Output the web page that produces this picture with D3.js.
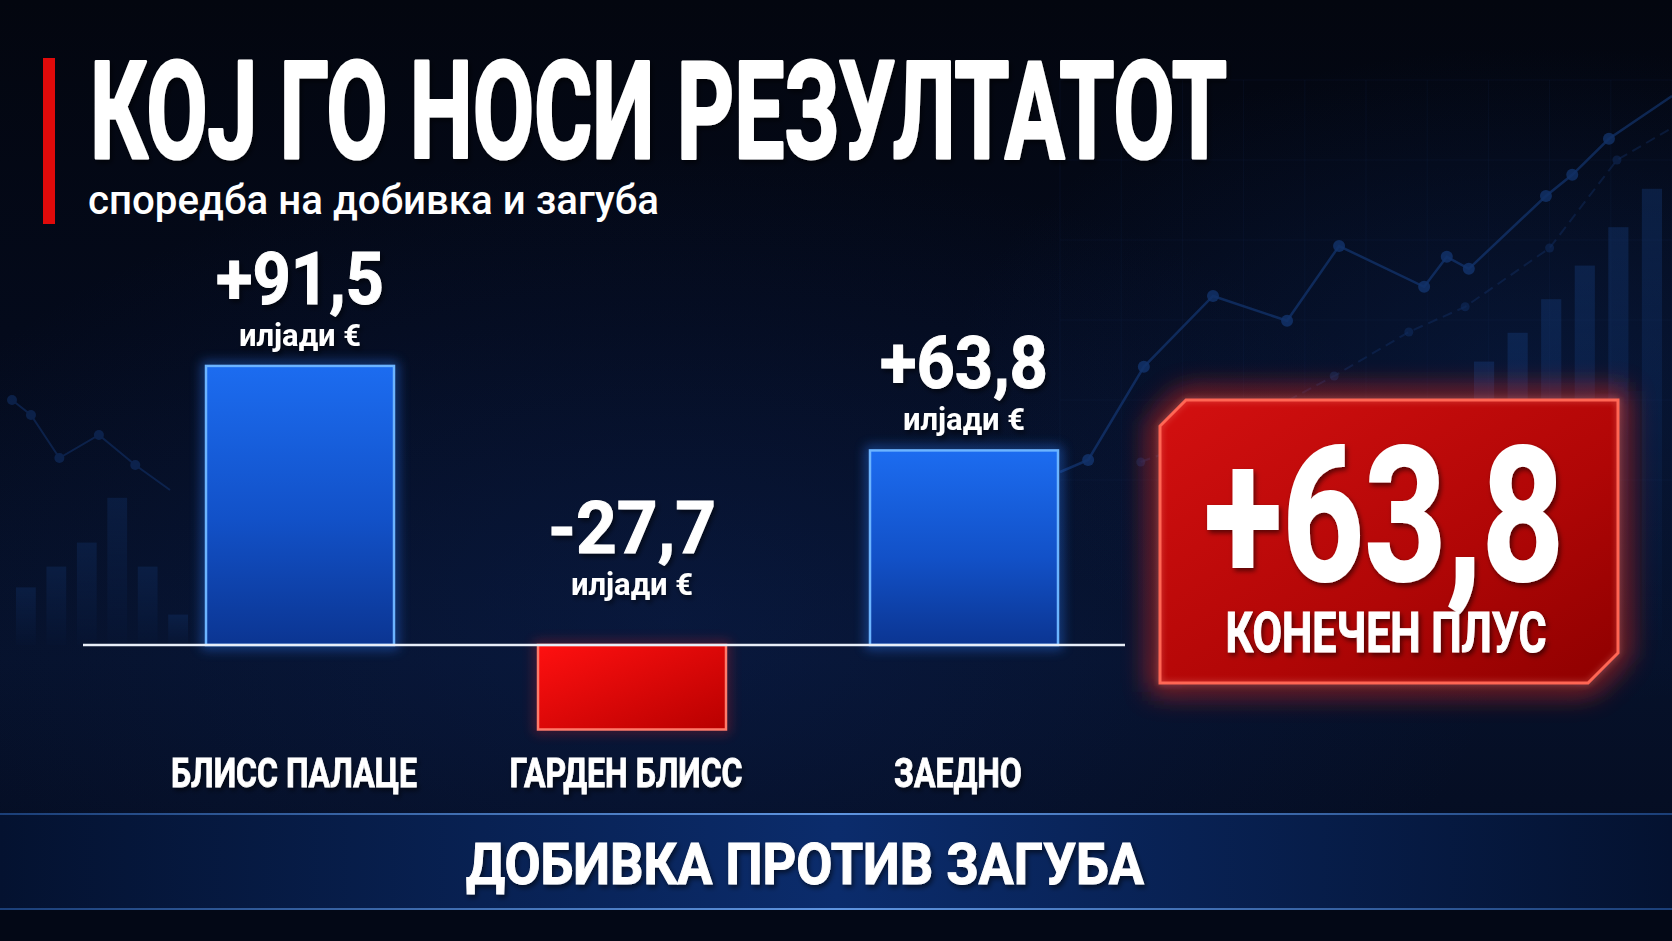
<!DOCTYPE html>
<html>
<head>
<meta charset="utf-8">
<script src="https://cdn.jsdelivr.net/npm/d3@7"></script>
<style>
  body { margin: 0; background: #040a1c; overflow: hidden; }
  text { font-family: Roboto, "Noto Sans", "DejaVu Sans", sans-serif; fill: #fff; }
</style>
</head>
<body>
<svg id="chart" width="1672" height="941"></svg>
<script>
// chart data
const categories = ["БЛИСС ПАЛАЦЕ", "ГАРДЕН БЛИСС", "ЗАЕДНО"];
const values = [91.5, -27.7, 63.8];
const unitLabel = "илјади €";
const totalValue = 63.8;
const totalCaption = "КОНЕЧЕН ПЛУС";
const titleText = "КОЈ ГО НОСИ РЕЗУЛТАТОТ";
const subtitleText = "споредба на добивка и загуба";
const footerText = "ДОБИВКА ПРОТИВ ЗАГУБА";

// background decoration (faint trend chart), values in 0..100 units
const decoTrend = [[0, 2], [4.6, 5], [13.7, 28.3], [25, 46], [37.1, 39.8], [45.6, 58.5], [59.5, 48.3],
  [63.2, 55.8], [66.8, 52.8], [79.4, 71], [83.7, 76.3], [89.7, 85.3], [100, 96]];
const decoTrend2 = [[13.2, 4.5], [30, 14], [44.8, 26], [57, 37], [66.2, 43.3], [80, 58], [91, 80], [100, 88]];
const decoBarsRight = [58, 64, 71, 78, 86, 94];
const decoBarsLeft = [36, 49, 64, 92, 49, 19];
const decoLineLeft = [[0, 70], [12, 55], [30, 12], [55, 35], [78, 5], [100, -20]];

const fmt = d3.formatLocale({ decimal: ",", thousands: ".", grouping: [3], currency: ["", "€"], minus: "-" })
  .format("+.1f");

const svg = d3.select("#chart");
const width = +svg.attr("width");
const height = +svg.attr("height");
const defs = svg.append("defs");

// ---------- gradients & filters ----------
const bgGrad = defs.append("linearGradient").attr("id", "bg").attr("x1", 0).attr("y1", 0).attr("x2", 0).attr("y2", 1);
[["0%", "#03060f"], ["35%", "#040a1b"], ["70%", "#06112a"], ["100%", "#040b1e"]]
  .forEach(s => bgGrad.append("stop").attr("offset", s[0]).attr("stop-color", s[1]));

const glowBlue = defs.append("radialGradient").attr("id", "glowBlue").attr("cx", "40%").attr("cy", "66%").attr("r", "50%");
glowBlue.append("stop").attr("offset", "0%").attr("stop-color", "#0f2a6a").attr("stop-opacity", 0.3);
glowBlue.append("stop").attr("offset", "100%").attr("stop-color", "#0f2a6a").attr("stop-opacity", 0);

const glowRight = defs.append("radialGradient").attr("id", "glowRight").attr("cx", "92%").attr("cy", "40%").attr("r", "35%");
glowRight.append("stop").attr("offset", "0%").attr("stop-color", "#0e3070").attr("stop-opacity", 0.3);
glowRight.append("stop").attr("offset", "100%").attr("stop-color", "#0e3070").attr("stop-opacity", 0);

const blueBar = defs.append("linearGradient").attr("id", "blueBar").attr("x1", 0).attr("y1", 0).attr("x2", 0).attr("y2", 1);
blueBar.append("stop").attr("offset", "0%").attr("stop-color", "#1c6cf0");
blueBar.append("stop").attr("offset", "55%").attr("stop-color", "#1251c8");
blueBar.append("stop").attr("offset", "100%").attr("stop-color", "#0b3592");

const redBar = defs.append("linearGradient").attr("id", "redBar").attr("x1", 0).attr("y1", 0).attr("x2", 1).attr("y2", 1);
redBar.append("stop").attr("offset", "0%").attr("stop-color", "#ff1010");
redBar.append("stop").attr("offset", "100%").attr("stop-color", "#b80000");

const redBox = defs.append("linearGradient").attr("id", "redBox").attr("x1", 0).attr("y1", 0).attr("x2", 1).attr("y2", 1);
redBox.append("stop").attr("offset", "0%").attr("stop-color", "#d41010");
redBox.append("stop").attr("offset", "60%").attr("stop-color", "#b00606");
redBox.append("stop").attr("offset", "100%").attr("stop-color", "#8e0000");

const band = defs.append("linearGradient").attr("id", "band").attr("x1", 0).attr("y1", 0).attr("x2", 1).attr("y2", 0);
[["0%", "#041230"], ["50%", "#0b2c6c"], ["100%", "#041230"]]
  .forEach(s => band.append("stop").attr("offset", s[0]).attr("stop-color", s[1]));
const bandLine = defs.append("linearGradient").attr("id", "bandLine").attr("x1", 0).attr("y1", 0).attr("x2", 1).attr("y2", 0);
[["0%", "#1b3f78"], ["50%", "#5f95e0"], ["100%", "#1b3f78"]]
  .forEach(s => bandLine.append("stop").attr("offset", s[0]).attr("stop-color", s[1]));

const decoFade = defs.append("linearGradient").attr("id", "decoFade").attr("x1", 0).attr("y1", 0).attr("x2", 0).attr("y2", 1);
decoFade.append("stop").attr("offset", "0%").attr("stop-color", "#1d4f9e").attr("stop-opacity", 0.5);
decoFade.append("stop").attr("offset", "100%").attr("stop-color", "#1d4f9e").attr("stop-opacity", 0.04);

function blurFilter(id, dev) {
  const f = defs.append("filter").attr("id", id).attr("x", "-30%").attr("y", "-30%").attr("width", "160%").attr("height", "160%");
  f.append("feGaussianBlur").attr("stdDeviation", dev);
}
blurFilter("blur6", 6);
blurFilter("blur14", 14);
blurFilter("blur3", 3);

const shadow = defs.append("filter").attr("id", "shadow").attr("x", "-10%").attr("y", "-10%").attr("width", "130%").attr("height", "140%");
shadow.append("feDropShadow").attr("dx", 2).attr("dy", 3).attr("stdDeviation", 2.5)
  .attr("flood-color", "#000").attr("flood-opacity", 0.55);

// ---------- background ----------
svg.append("rect").attr("width", width).attr("height", height).attr("fill", "url(#bg)");
svg.append("rect").attr("width", width).attr("height", height).attr("fill", "url(#glowBlue)");
svg.append("rect").attr("width", width).attr("height", height).attr("fill", "url(#glowRight)");

// faint trend decoration, right side
const dx = d3.scaleLinear().domain([0, 100]).range([1060, 1672]);
const dy = d3.scaleLinear().domain([0, 100]).range([480, 80]);
const deco = svg.append("g").attr("opacity", 0.55);

// faint grid
deco.selectAll("line.gv").data(d3.range(0, 101, 10)).enter().append("line")
  .attr("x1", d => dx(d)).attr("x2", d => dx(d)).attr("y1", dy(100)).attr("y2", dy(-40))
  .attr("stroke", "#16305e").attr("stroke-opacity", 0.25);
deco.selectAll("line.gh").data(d3.range(0, 101, 20)).enter().append("line")
  .attr("x1", dx(0)).attr("x2", dx(100)).attr("y1", d => dy(d)).attr("y2", d => dy(d))
  .attr("stroke", "#16305e").attr("stroke-opacity", 0.25);

const dbx = d3.scaleBand().domain(d3.range(decoBarsRight.length)).range([1474, 1662]).paddingInner(0.4);
const dbh = d3.scaleLinear().domain([0, 100]).range([0, 480]);
deco.selectAll("rect.db").data(decoBarsRight).enter().append("rect")
  .attr("x", (d, i) => dbx(i)).attr("width", dbx.bandwidth())
  .attr("y", d => 640 - dbh(d)).attr("height", d => dbh(d))
  .attr("fill", "url(#decoFade)");

const decoLine = d3.line().x(d => dx(d[0])).y(d => dy(d[1]));
deco.append("path").datum(decoTrend2).attr("d", decoLine)
  .attr("fill", "none").attr("stroke", "#1a4288").attr("stroke-width", 2).attr("stroke-dasharray", "10 6").attr("opacity", 0.5);
deco.append("path").datum(decoTrend).attr("d", decoLine)
  .attr("fill", "none").attr("stroke", "#1b4c9c").attr("stroke-width", 2.5).attr("opacity", 0.8);
deco.selectAll("circle.t").data(decoTrend.slice(1, -1)).enter().append("circle")
  .attr("cx", d => dx(d[0])).attr("cy", d => dy(d[1])).attr("r", 6)
  .attr("fill", "#1c4d9e").attr("opacity", 0.85);
deco.selectAll("circle.t2").data(decoTrend2.slice(0, -1)).enter().append("circle")
  .attr("cx", d => dx(d[0])).attr("cy", d => dy(d[1])).attr("r", 4.5)
  .attr("fill", "#173f84").attr("opacity", 0.6);

// faint decoration, left side
const lx = d3.scaleLinear().domain([0, 100]).range([12, 170]);
const ly = d3.scaleLinear().domain([0, 100]).range([470, 370]);
const lbx = d3.scaleBand().domain(d3.range(decoBarsLeft.length)).range([16, 188]).paddingInner(0.35);
const lbh = d3.scaleLinear().domain([0, 100]).range([0, 160]);
const decoL = svg.append("g").attr("opacity", 0.4);
decoL.selectAll("rect").data(decoBarsLeft).enter().append("rect")
  .attr("x", (d, i) => lbx(i)).attr("width", lbx.bandwidth())
  .attr("y", d => 645 - lbh(d)).attr("height", d => lbh(d))
  .attr("fill", "url(#decoFade)");
decoL.append("path").datum(decoLineLeft).attr("d", d3.line().x(d => lx(d[0])).y(d => ly(d[1])))
  .attr("fill", "none").attr("stroke", "#173f84").attr("stroke-width", 2);
decoL.selectAll("circle").data(decoLineLeft.slice(0, -1)).enter().append("circle")
  .attr("cx", d => lx(d[0])).attr("cy", d => ly(d[1])).attr("r", 5).attr("fill", "#173f84");

// ---------- header ----------
svg.append("rect").attr("x", 43).attr("y", 58).attr("width", 12).attr("height", 166).attr("fill", "#e00a0a");
svg.append("text").attr("x", 90).attr("y", 158)
  .attr("font-size", 135).attr("font-weight", 700)
  .attr("textLength", 1137).attr("lengthAdjust", "spacingAndGlyphs")
  .attr("stroke", "#fff").attr("stroke-width", 3).attr("stroke-linejoin", "round")
  .attr("filter", "url(#shadow)")
  .text(titleText);
svg.append("text").attr("x", 88).attr("y", 214)
  .attr("font-size", 40).attr("font-weight", 500)
  .attr("textLength", 571).attr("lengthAdjust", "spacingAndGlyphs")
  .attr("fill", "#eef2f8")
  .text(subtitleText);

// ---------- bar chart ----------
const x = d3.scalePoint().domain(categories).range([300, 964]);
const barW = 188;
const y = d3.scaleLinear().domain([-30, 95]).range([645 + 30 * 3.05, 645 - 95 * 3.05]);
const data = categories.map((c, i) => ({ cat: c, value: values[i] }));

const g = svg.append("g");

// glow behind bars
g.selectAll("rect.glow").data(data).enter().append("rect")
  .attr("x", d => x(d.cat) - barW / 2).attr("width", barW)
  .attr("y", d => Math.min(y(d.value), y(0))).attr("height", d => Math.abs(y(d.value) - y(0)))
  .attr("fill", "none")
  .attr("stroke", d => d.value >= 0 ? "#2a7dff" : "#ff2020")
  .attr("stroke-width", 8).attr("opacity", d => d.value >= 0 ? 0.5 : 0.3)
  .attr("filter", "url(#blur6)");

g.selectAll("rect.bar").data(data).enter().append("rect")
  .attr("class", "bar")
  .attr("x", d => x(d.cat) - barW / 2).attr("width", barW)
  .attr("y", d => Math.min(y(d.value), y(0))).attr("height", d => Math.abs(y(d.value) - y(0)))
  .attr("fill", d => d.value >= 0 ? "url(#blueBar)" : "url(#redBar)")
  .attr("stroke", d => d.value >= 0 ? "#6cb4ff" : "#ff7a6a")
  .attr("stroke-width", 2.5);

// zero line
g.append("line").attr("x1", 83).attr("x2", 1125).attr("y1", y(0)).attr("y2", y(0))
  .attr("stroke", "#e8eef8").attr("stroke-width", 2.5);

// value labels
const labelTop = d => d.value >= 0 ? y(d.value) : y(0);
g.selectAll("text.val").data(data).enter().append("text")
  .attr("x", d => x(d.cat)).attr("y", d => labelTop(d) - (d.value >= 0 ? 62 : 92))
  .attr("text-anchor", "middle").attr("font-size", 72).attr("font-weight", 700)
  .attr("textLength", 168).attr("lengthAdjust", "spacingAndGlyphs")
  .attr("stroke", "#fff").attr("stroke-width", 1)
  .attr("filter", "url(#shadow)")
  .text(d => fmt(d.value));
g.selectAll("text.unit").data(data).enter().append("text")
  .attr("x", d => x(d.cat)).attr("y", d => labelTop(d) - (d.value >= 0 ? 20 : 50))
  .attr("text-anchor", "middle").attr("font-size", 31).attr("font-weight", 700)
  .attr("filter", "url(#shadow)")
  .text(unitLabel);

// category labels, condensed
g.selectAll("text.cat").data(data).enter().append("text")
  .attr("class", "cat")
  .attr("x", d => x(d.cat) - 6).attr("y", 787)
  .attr("text-anchor", "middle").attr("font-size", 40).attr("font-weight", 700)
  .attr("stroke", "#fff").attr("stroke-width", 0.8)
  .attr("filter", "url(#shadow)")
  .text(d => d.cat)
  .each(function () {
    const w = this.getComputedTextLength();
    d3.select(this).attr("textLength", w * 0.8).attr("lengthAdjust", "spacingAndGlyphs");
  });

// ---------- total box ----------
const bx0 = 1160, by0 = 400, bx1 = 1618, by1 = 683, c1 = 26, c2 = 30;
const boxPath = `M${bx0 + c1},${by0} L${bx1},${by0} L${bx1},${by1 - c2} L${bx1 - c2},${by1} L${bx0},${by1} L${bx0},${by0 + c1} Z`;
const box = svg.append("g");
box.append("path").attr("d", boxPath).attr("fill", "none")
  .attr("stroke", "#ff2a1a").attr("stroke-width", 18).attr("opacity", 0.7).attr("filter", "url(#blur14)");
box.append("path").attr("d", boxPath).attr("fill", "url(#redBox)")
  .attr("stroke", "#ff5a48").attr("stroke-width", 3);
box.append("path").attr("d", boxPath).attr("fill", "none")
  .attr("stroke", "#ffb0a0").attr("stroke-width", 2).attr("opacity", 0.6).attr("filter", "url(#blur3)");
box.append("text").attr("x", 1384).attr("y", 580)
  .attr("text-anchor", "middle").attr("font-size", 188).attr("font-weight", 700)
  .attr("textLength", 360).attr("lengthAdjust", "spacingAndGlyphs")
  .attr("stroke", "#fff").attr("stroke-width", 2)
  .attr("filter", "url(#shadow)")
  .text(fmt(totalValue));
box.append("text").attr("x", 1386).attr("y", 652)
  .attr("text-anchor", "middle").attr("font-size", 55).attr("font-weight", 700)
  .attr("textLength", 321).attr("lengthAdjust", "spacingAndGlyphs")
  .attr("stroke", "#fff").attr("stroke-width", 1)
  .attr("filter", "url(#shadow)")
  .text(totalCaption);

// ---------- footer band ----------
svg.append("rect").attr("x", 0).attr("y", 814).attr("width", width).attr("height", 95).attr("fill", "url(#band)");
svg.append("rect").attr("x", 0).attr("y", 813).attr("width", width).attr("height", 2).attr("fill", "url(#bandLine)");
svg.append("rect").attr("x", 0).attr("y", 908).attr("width", width).attr("height", 2).attr("fill", "url(#bandLine)");
svg.append("rect").attr("x", 0).attr("y", 910).attr("width", width).attr("height", 31).attr("fill", "#030816");
svg.append("text").attr("x", 805).attr("y", 884)
  .attr("text-anchor", "middle").attr("font-size", 58).attr("font-weight", 700)
  .attr("textLength", 678).attr("lengthAdjust", "spacingAndGlyphs")
  .attr("stroke", "#fff").attr("stroke-width", 1)
  .attr("filter", "url(#shadow)")
  .text(footerText);
</script>
</body>
</html>
